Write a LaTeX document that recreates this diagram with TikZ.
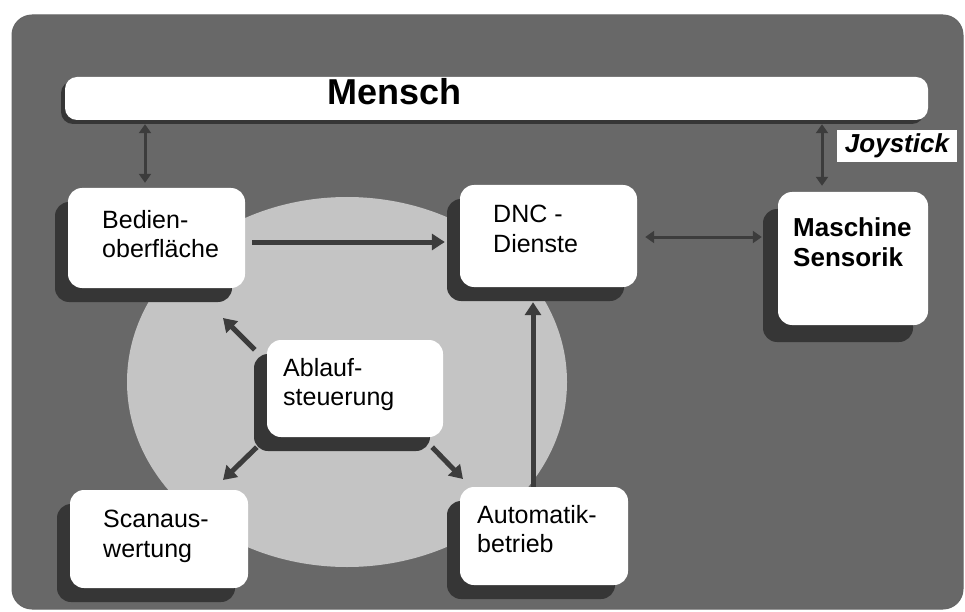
\documentclass[tikz,border=0pt]{standalone}
\usepackage{fontspec}
\setmainfont{Liberation Sans}
\usetikzlibrary{arrows.meta,shadows}
\definecolor{framegray}{HTML}{686868}
\definecolor{ellgray}{HTML}{C4C4C4}
\definecolor{shadowgray}{HTML}{363636}
\definecolor{arrowgray}{HTML}{3C3C3C}
\begin{document}
\begin{tikzpicture}[x=1pt,y=-1pt,
  plainbox/.style={draw=none, fill=white, rounded corners=14pt, inner sep=0pt},
  box/.style={plainbox,
    general shadow={fill=shadowgray, shadow xshift=-13pt, shadow yshift=-14pt}},
  lbl/.style={anchor=north west, inner sep=0pt, align=left, font=\fontsize{25}{29.5}\selectfont},
  arr/.style={draw=arrowgray, line width=5pt, -{Triangle[length=13pt,width=16pt]}},
  dbl/.style={draw=arrowgray, line width=3pt, {Triangle[length=9pt,width=12pt]}-{Triangle[length=9pt,width=12pt]}},
]
\useasboundingbox (0,0) rectangle (965,612);
% frame and circle
\draw[fill=framegray, draw=black!60, line width=1pt, rounded corners=20pt] (12,15) rectangle (963,609);
\fill[ellgray] (347,382) ellipse [x radius=220, y radius=185];
% Mensch bar
\node[plainbox, rounded corners=12pt, minimum width=863pt, minimum height=43pt,
  general shadow={fill=shadowgray, shadow xshift=-4pt, shadow yshift=-4pt}] (mensch) at (496.5,98.5) {};
\node[anchor=north west, inner sep=0pt, font=\fontsize{36}{42}\selectfont\bfseries] (menscht) at (327,78) {Mensch};
% boxes
\node[box, minimum width=177pt, minimum height=100pt] (bed) at (156.5,238) {};
\node[box, minimum width=177pt, minimum height=102pt] (dnc) at (548.5,236) {};
\node[plainbox, minimum width=150pt, minimum height=133pt,
  general shadow={fill=shadowgray, shadow xshift=-15pt, shadow yshift=-17pt}] (mas) at (853,258.5) {};
\node[box, minimum width=176pt, minimum height=97pt] (abl) at (355,388.5) {};
\node[box, minimum width=178pt, minimum height=98pt] (scan) at (159,539) {};
\node[box, minimum width=168pt, minimum height=98pt] (auto) at (544,536) {};
% labels
\node[lbl] (bedt) at (102,210) {Bedien-\\oberfläche};
\node[lbl] (dnct) at (493,205) {DNC -\\Dienste};
\node[lbl, font=\fontsize{26}{30}\selectfont\bfseries] (mast) at (793,217) {Maschine\\Sensorik};
\node[lbl] (ablt) at (283,358) {Ablauf-\\steuerung};
\node[lbl] (scant) at (103,510) {Scanaus-\\wertung};
\node[lbl] (autot) at (477,505) {Automatik-\\betrieb};
\node[fill=white, inner sep=0pt, minimum width=120pt, minimum height=32pt,
  font=\fontsize{26}{30}\selectfont\bfseries\itshape] (joy) at (897,146) {Joystick};
% connectors
\draw[dbl, shorten <=4pt, shorten >=5pt] (145,0 |- mensch.south) -- (145,0 |- bed.north);
\draw[dbl, shorten <=4pt, shorten >=6pt] (822,0 |- mensch.south) -- (822,0 |- mas.north);
\draw[arr, shorten <=7pt, shorten >=15pt] (bed.east |- 0,242) -- (dnc.west |- 0,242);
\draw[dbl, shorten <=8pt, shorten >=16pt] (dnc.east |- 0,237) -- (mas.west |- 0,237);
\draw[arr, shorten >=15pt] (533,0 |- auto.north) -- (533,0 |- dnc.south);
\coordinate (tbed) at (223,318);
\coordinate (tscan) at (223,480);
\coordinate (tauto) at (463,479);
\draw[arr] ([shift={(-12pt,-10pt)}]abl.north west) -- (tbed);
\draw[arr] ([shift={(-10pt,-10pt)}]abl.south west) -- (tscan);
\draw[arr] ([shift={(-11pt,-10pt)}]abl.south east) -- (tauto);
\end{tikzpicture}
\end{document}
